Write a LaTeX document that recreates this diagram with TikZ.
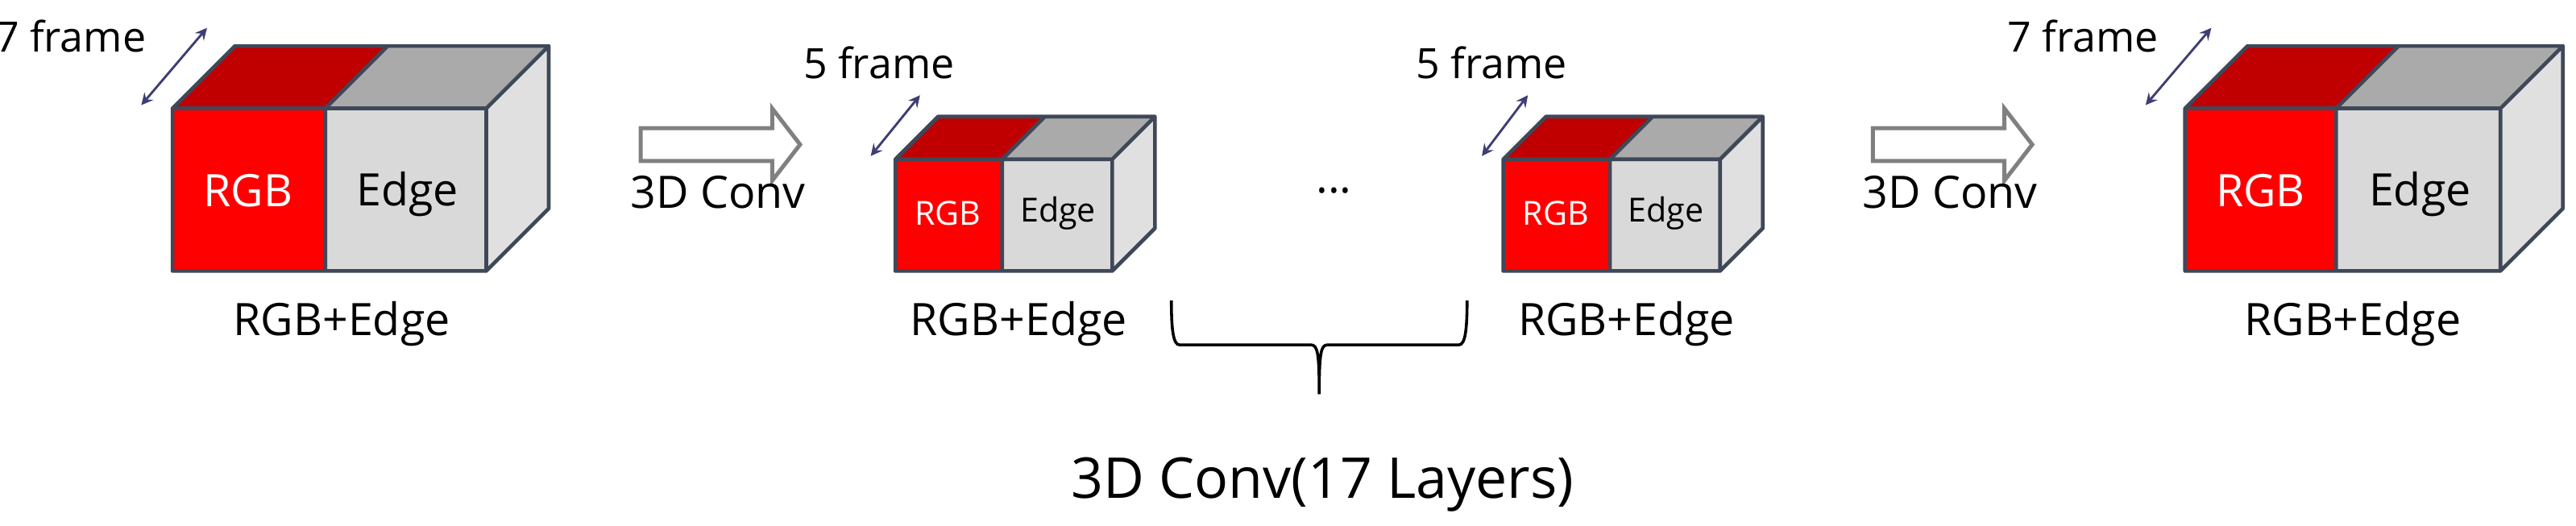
\documentclass[tikz,border=0pt]{standalone}
\usepackage{fontspec}
\setmainfont{Open Sans}
\usetikzlibrary{calc}
\begin{document}
\begin{tikzpicture}[x=0.02cm,y=-0.02cm,
  lbl/.style={font=\fontsize{15.5}{18}\selectfont},
  fr/.style={font=\fontsize{14.5}{17}\selectfont},
  sm/.style={font=\fontsize{11.5}{14}\selectfont},
  dbl/.style={<->,>=stealth,draw=gray!70!blue!70!black,line width=0.8pt},
  barrow/.style={draw=gray,fill=white,line width=1.4pt}]
\definecolor{rf}{HTML}{FF0000}
\definecolor{rt}{HTML}{C00000}
\definecolor{gf}{HTML}{D9D9D9}
\definecolor{gt}{HTML}{AAAAAA}
\definecolor{gs}{HTML}{E0E0E0}
\definecolor{ol}{HTML}{3F4858}
\useasboundingbox (0,0) rectangle (1568,320);
\newcommand{\mycube}[6]{%
  \fill[rt] (#1,#4) -- ++(#6,-#6) -- ($(#2,#4)+(#6,-#6)$) -- (#2,#4) -- cycle;
  \fill[gt] (#2,#4) -- ++(#6,-#6) -- ($(#3,#4)+(#6,-#6)$) -- (#3,#4) -- cycle;
  \fill[gs] (#3,#4) -- ++(#6,-#6) -- ($(#3,#5)+(#6,-#6)$) -- (#3,#5) -- cycle;
  \fill[rf] (#1,#4) rectangle (#2,#5);
  \fill[gf] (#2,#4) rectangle (#3,#5);
  \draw[ol,line width=1.3pt,line join=round] (#1,#5) -- (#1,#4) -- ++(#6,-#6) -- ($(#3,#4)+(#6,-#6)$) -- ($(#3,#5)+(#6,-#6)$) -- (#3,#5) -- cycle
     (#1,#4) -- (#3,#4) -- ++(#6,-#6) (#3,#4) -- (#3,#5) (#2,#4) -- (#2,#5) (#2,#4) -- ++(#6,-#6);
}
\newcommand{\blockarrow}[2]{%
  \draw[barrow] (#1,#2-10) -- (#1+80,#2-10) -- (#1+80,#2-22) -- (#1+97,#2) -- (#1+80,#2+22) -- (#1+80,#2+10) -- (#1,#2+10) -- cycle;
}
% cube 1
\mycube{105}{198}{296}{66}{165}{38}
\node[lbl,text=white] (rgb1) at (151,116) {RGB};
\node[lbl] (edge1) at (248,118) {Edge};
\node[lbl] (lab1) at (208,197) {RGB+Edge};
\node[fr] (f1) at (43,22) {7 frame};
\coordinate (a1s) at (86,64); \coordinate (a1e) at (126,17);
\draw[dbl] (a1s) -- (a1e);
\blockarrow{390}{88}
\node[lbl] (c1) at (437,117) {3D Conv};
% cube 2
\mycube{545}{610}{677}{97}{165}{26}
\node[sm,text=white] (rgb2) at (577,130) {RGB};
\node[sm] (edge2) at (644,130) {Edge};
\node[lbl] (lab2) at (620,197) {RGB+Edge};
\node[fr] (f2) at (535,38) {5 frame};
\coordinate (a2s) at (530,95); \coordinate (a2e) at (560,58);
\draw[dbl] (a2s) -- (a2e);
\node[lbl] (dots) at (812,116) {...};
% cube 3
\mycube{915}{980}{1047}{97}{165}{26}
\node[sm,text=white] (rgb3) at (947,130) {RGB};
\node[sm] (edge3) at (1014,130) {Edge};
\node[lbl] (lab3) at (990,197) {RGB+Edge};
\node[fr] (f3) at (908,38) {5 frame};
\coordinate (a3s) at (902,95); \coordinate (a3e) at (930,58);
\draw[dbl] (a3s) -- (a3e);
% brace
\coordinate (b1) at (713,183); \coordinate (b2) at (893,183); \coordinate (bt) at (803,240);
\draw[line width=1pt] (b1) .. controls (713,200) and (714,210) .. (718,210) -- (798,210) .. controls (802,210) and (803,215) .. (bt)
  (bt) .. controls (803,215) and (804,210) .. (808,210) -- (888,210) .. controls (892,210) and (893,200) .. (b2);
\node[font=\fontsize{19.5}{23}\selectfont] (c17) at (805,295) {3D Conv(17 Layers)};
\blockarrow{1140}{88}
\node[lbl] (c2) at (1187,117) {3D Conv};
% cube 4
\mycube{1330}{1422}{1522}{66}{165}{38}
\node[lbl,text=white] (rgb4) at (1376,116) {RGB};
\node[lbl] (edge4) at (1473,118) {Edge};
\node[lbl] (lab4) at (1432,197) {RGB+Edge};
\node[fr] (f4) at (1268,22) {7 frame};
\coordinate (a4s) at (1306,64); \coordinate (a4e) at (1346,17);
\draw[dbl] (a4s) -- (a4e);
\end{tikzpicture}
\end{document}
